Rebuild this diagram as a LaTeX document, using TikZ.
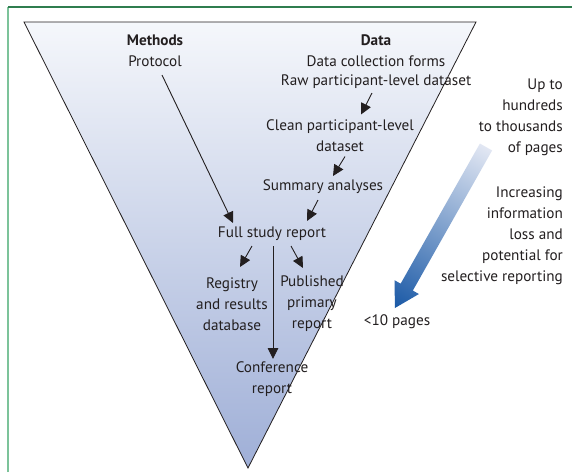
\documentclass[tikz,border=0pt]{standalone}
\usepackage{fontspec}
\setmainfont{PT Sans}
\usetikzlibrary{arrows.meta}
\definecolor{topc}{HTML}{F5F7FB}
\definecolor{botc}{HTML}{9FAFD7}
\definecolor{textc}{HTML}{231F20}
\definecolor{greentop}{HTML}{2F7D4F}
\definecolor{greenleft}{HTML}{7CC39A}
\definecolor{arrlight}{HTML}{E2E7F3}
\definecolor{arrdark}{HTML}{1A59A6}
\begin{document}
\begin{tikzpicture}[x=1pt,y=-1pt,
  font=\fontsize{15.2}{21}\selectfont,
  txt/.style={inner sep=0pt, align=center, text=textc},
  arr/.style={-{Triangle[length=11pt,width=10.5pt]}, line width=0.9pt, draw=textc}]
\useasboundingbox (0,0) rectangle (572,472);
\fill[white] (0,0) rectangle (572,472);
\draw[greenleft, line width=2pt] (8,472) -- (8,7);
\draw[greentop, line width=1.6pt] (8,7) -- (572,7);
\shade[top color=topc, bottom color=botc] (24,22) -- (476,22) -- (248,468) -- cycle;
\draw[textc, line width=0.8pt, line join=miter] (24,22) -- (476,22) -- (248,468) -- cycle;

% nodes
\node[txt, font=\fontsize{15.2}{21}\selectfont\bfseries] (methods) at (155,40) {Methods};
\node[txt] (protocol) at (155,61) {Protocol};
\node[txt, font=\fontsize{15.2}{21}\selectfont\bfseries] (data) at (376,40) {Data};
\node[txt] (forms) at (376,61) {Data collection forms};
\node[txt] (raw) at (376,82) {Raw participant-level dataset};
\node[txt] (clean) at (340,135.5) {Clean participant-level\\dataset};
\node[txt] (summary) at (323,187) {Summary analyses};
\node[txt] (full) at (272,234) {Full study report};
\node[txt] (registry) at (232,304) {Registry\\and results\\database};
\node[txt] (published) at (312,304) {Published\\primary\\report};
\node[txt] (conf) at (272,379) {Conference\\report};
\node[txt] (pages) at (397,322) {<10 pages};
\node[txt, anchor=east, align=right] (upto) at (563,117) {Up to\\hundreds\\to thousands\\of pages};
\node[txt, anchor=east, align=right] (incr) at (563,236) {Increasing\\information\\loss and\\potential for\\selective reporting};

% connectors
\draw[arr] ([shift={(7,14)}]protocol.center) -- ([shift={(-39,-11)}]full.center);
\draw[arr] ([shift={(-4,11)}]raw.center) -- ([shift={(21,-21)}]clean.center);
\draw[arr] ([shift={(5,21)}]clean.center) -- ([shift={(10,-11)}]summary.center);
\draw[arr] ([shift={(-5,13)}]summary.center) -- ([shift={(35,-13)}]full.center);
\draw[arr] ([shift={(-20,12)}]full.center) -- ([shift={(8,-37)}]registry.center);
\draw[arr] ([shift={(19,12)}]full.center) -- ([shift={(-9,-36)}]published.center);
\draw[arr] ([shift={(1,12)}]full.center) -- ([shift={(1,-20)}]conf.center);

% gradient arrow
\begin{scope}[transform canvas={shift={(486,147)}, rotate=240.5}]
\shade[left color=arrlight, right color=arrdark]
  (0,-7) -- (161,-7) -- (161,-14) -- (185,0) -- (161,14) -- (161,7) -- (0,7) -- cycle;
\end{scope}
\end{tikzpicture}
\end{document}
